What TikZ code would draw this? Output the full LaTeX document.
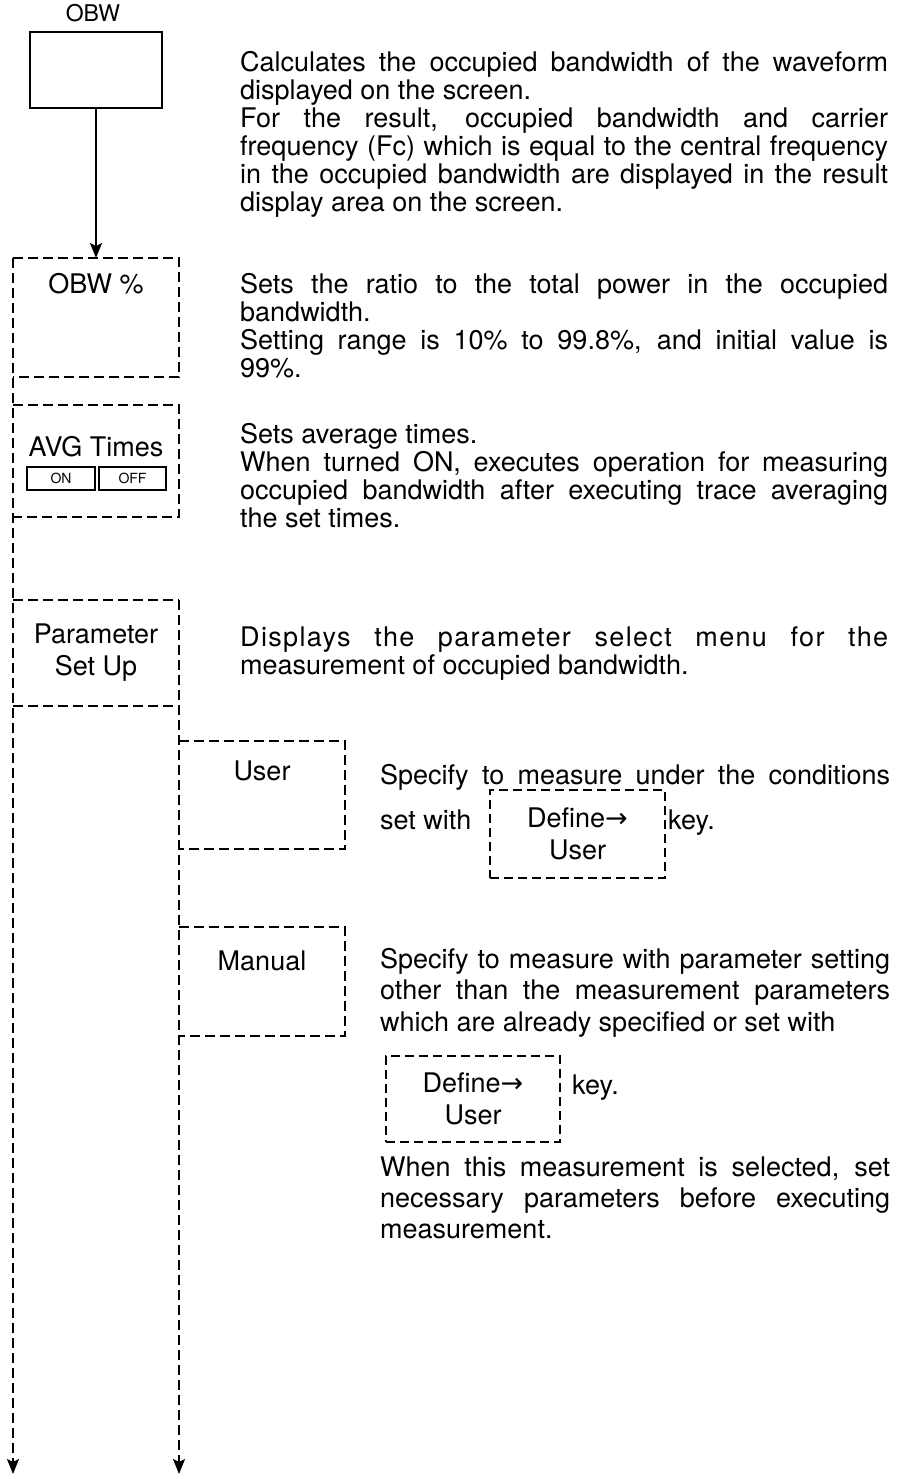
\documentclass[tikz,border=0pt]{standalone}
\usepackage{fontspec}
\setmainfont{TeX Gyre Heros}
\newfontfamily\arrowfont{DejaVu Sans}
\usetikzlibrary{arrows.meta}

\tikzset{
	frame/.style={inner sep=0pt, outer sep=0pt},
	solidkey/.style={draw, line width=1.8pt, inner sep=0pt, outer sep=0pt},
	definekey/.style={draw, line width=1.6pt, dash pattern=on 9pt off 5pt, inner sep=0pt, outer sep=0pt, align=center, font=\fontsize{27}{32}\selectfont},
	button/.style={draw, line width=1.5pt, inner sep=0pt, minimum height=23pt, font=\fontsize{14}{15}\selectfont},
	keytext/.style={inner sep=0pt, align=center, font=\fontsize{27}{32}\selectfont},
	desc/.style={inner sep=0pt, anchor=north west, align=justify, font=\fontsize{27}{28}\selectfont},
	word/.style={inner sep=0pt, anchor=base west, font=\fontsize{27}{28}\selectfont},
	column/.style={line width=1.8pt, dash pattern=on 10pt off 5pt},
	tip/.style={-{Stealth[length=15pt,width=12pt,inset=3pt]}}
}

\begin{document}
\begin{tikzpicture}[x=1pt,y=-1pt]
	\useasboundingbox (0,0) rectangle (906,1479);
	%OBW key
	\node[solidkey, minimum width=132pt, minimum height=76pt] (obw) at (96,70) {};
	\node[keytext, font=\fontsize{23}{24}\selectfont] (obwlabel) at (93,13) {OBW};
	
	%soft keys, left column
	\node[frame, minimum width=166pt, minimum height=119pt] (obwpct) at (96,317.5) {};
	\node[keytext] (obwpcttext) at (96,284) {OBW \%};
	\node[frame, minimum width=166pt, minimum height=112pt] (avg) at (96,461) {};
	\node[keytext] (avgtext) at (96,447) {AVG Times};
	\node[button, minimum width=68pt] (on) at (61,478.5) {ON};
	\node[button, minimum width=67pt] (off) at (132.5,478.5) {OFF};
	\node[frame, minimum width=166pt, minimum height=106pt] (param) at (96,653) {};
	\node[keytext] (paramtext) at (96,653) {Parameter\\Set Up};
	
	%soft keys, right column
	\node[frame, minimum width=166pt, minimum height=108pt] (user) at (262,795) {};
	\node[keytext] (usertext) at (262,771) {User};
	\node[frame, minimum width=166pt, minimum height=109pt] (manual) at (262,981.5) {};
	\node[keytext] (manualtext) at (262,961) {Manual};
	
	\coordinate (leftend) at (13,1474);
	\coordinate (rightend) at (179,1474);
	
	%dashed frames
	\draw[column] (obwpct.north west) -| (obwpct.south east) -- (obwpct.south west);
	\draw[column] (avg.north west) -| (avg.south east) -- (avg.south west);
	\draw[column] (param.north west) -- (param.north east);
	\draw[column] (param.south west) -- (param.south east);
	\draw[column] (user.north west) -| (user.south east) -- (user.south west);
	\draw[column] (manual.north west) -| (manual.south east) -- (manual.south west);
	
	%arrows
	\draw[line width=1.8pt, tip] (obw.south) -- (obwpct.north);
	\draw[column, tip] (obwpct.north west) -- (leftend);
	\draw[column, tip] (param.north east) -- (rightend);
	
	%descriptions
	\node[desc, text width=648pt] (calc) at (240,51) {Calculates the occupied bandwidth of the waveform\linebreak
		displayed on the screen.\newline
		For the result, occupied bandwidth and carrier\linebreak
		frequency (Fc) which is equal to the central frequency\linebreak
		in the occupied bandwidth are displayed in the result\linebreak
		display area on the screen.};
	\node[desc, text width=648pt] (ratio) at (240,273) {Sets the ratio to the total power in the occupied\linebreak
		bandwidth.\newline
		Setting range is 10\% to 99.8\%, and initial value is\linebreak
		99\%.};
	\node[desc, text width=648pt] (avgdesc) at (240,423) {Sets average times.\newline
		When turned ON, executes operation for measuring\linebreak
		occupied bandwidth after executing trace averaging\linebreak
		the set times.};
	\node[desc, text width=648pt] (paramdesc) at (240,627) {{\addfontfeatures{LetterSpace=5}Displays the parameter select menu for the}\linebreak
		measurement of occupied bandwidth.};
	
	%User
	\node[desc, text width=510pt] (userdesc) at (380,764) {Specify to measure under the conditions\linebreak\mbox{}};
	\node[word] (setwith) at (380,829) {set with};
	\node[definekey, minimum width=175pt, minimum height=88pt] (defuserA) at (577.5,834) {Define{\arrowfont →}\\User};
	\node[word] (keyA) at (668,829) {key.};
	
	%Manual
	\node[desc, text width=510pt, font=\fontsize{27}{31.5}\selectfont] (manualdesc) at (380,948) {Specify to measure with parameter setting\linebreak
		other than the measurement parameters\linebreak
		which are already specified or set with};
	\node[definekey, minimum width=174pt, minimum height=86pt] (defuserB) at (473,1099) {Define{\arrowfont →}\\User};
	\node[word] (keyB) at (572,1094) {key.};
	\node[desc, text width=510pt, font=\fontsize{27}{31}\selectfont] (whendesc) at (380,1157) {When this measurement is selected, set\linebreak
		necessary parameters before executing\linebreak
		measurement.};
\end{tikzpicture}
\end{document}
